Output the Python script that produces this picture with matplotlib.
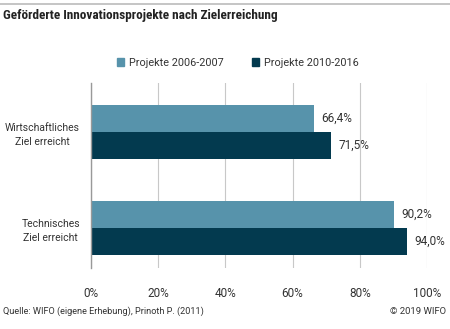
import matplotlib.pyplot as plt
from matplotlib.lines import Line2D
from matplotlib.patches import Patch
from matplotlib import font_manager

categories = ['Wirtschaftliches\nZiel erreicht', 'Technisches\nZiel erreicht']
series_names = ['Projekte 2006-2007', 'Projekte 2010-2016']
values_2006 = [66.4, 90.2]
values_2010 = [71.5, 94.0]
x_ticks = [0, 20, 40, 60, 80, 100]

light = '#5793AB'
dark = '#033A4F'
text_col = '#333333'

installed = {f.name for f in font_manager.fontManager.ttflist}
body = 'Roboto' if 'Roboto' in installed else 'DejaVu Sans'
title_font = 'Roboto Condensed' if 'Roboto Condensed' in installed else body
plt.rcParams['font.family'] = [body, 'DejaVu Sans']

fig = plt.figure(figsize=(4.5, 3.29), dpi=100)
ax = fig.add_axes([91 / 450, (329 - 268) / 329, (427 - 91) / 450, (268 - 83) / 329])

h = 0.286
pos = list(range(len(categories)))
b1 = ax.barh([p - h / 2 for p in pos], values_2006, height=h, color=light, label=series_names[0])
b2 = ax.barh([p + h / 2 for p in pos], values_2010, height=h, color=dark, label=series_names[1])

for bars, vals in ((b1, values_2006), (b2, values_2010)):
    for bar, v in zip(bars, vals):
        ax.text(bar.get_width() + 2.2, bar.get_y() + bar.get_height() / 2,
                f'{v:.1f}%'.replace('.', ','), va='center', ha='left',
                fontsize=8.5, color=text_col)

ax.set_xlim(0, 100)
ax.set_ylim(1.417, -0.51)
ax.set_xticks(x_ticks)
ax.set_xticklabels([f'{t}%' for t in x_ticks], fontsize=8.5, color=text_col)
ax.set_yticks(pos)
ax.set_yticklabels(categories, fontsize=7.5, color=text_col, ha='right', ma='center',
                   linespacing=1.5)
ax.tick_params(axis='x', length=0, pad=14)
ax.tick_params(axis='y', length=0, pad=8)
ax.grid(axis='x', color='#C8C8C8', linewidth=0.8)
ax.set_axisbelow(True)
for s in ['top', 'right', 'bottom']:
    ax.spines[s].set_visible(False)
ax.spines['left'].set_color('#999999')
ax.spines['left'].set_linewidth(1.0)
ax.spines['left'].set_zorder(5)

handles = [Patch(color=light), Patch(color=dark)]
fig.legend(handles, series_names, loc='center', bbox_to_anchor=(0.528, 1 - 63 / 329),
           ncol=2, frameon=False, fontsize=7.8, handlelength=0.7, handleheight=0.7,
           handletextpad=0.4, columnspacing=2.6, labelcolor=text_col)

fig.add_artist(Line2D([0, 1], [1 - 3.5 / 329, 1 - 3.5 / 329], color='#BBBBBB', linewidth=1.2))
fig.text(3 / 450, 1 - 16 / 329, 'Geförderte Innovationsprojekte nach Zielerreichung',
         fontsize=9.5 if title_font != body else 8, fontweight='bold', color='#222222',
         va='center', ha='left', family=[title_font, 'DejaVu Sans'])
fig.text(3 / 450, 1 - 311 / 329, 'Quelle: WIFO (eigene Erhebung), Prinoth P. (2011)',
         fontsize=6.6, color=text_col, va='center', ha='left')
fig.text(446 / 450, 1 - 311 / 329, '© 2019 WIFO',
         fontsize=6.8, color=text_col, va='center', ha='right')

fig.savefig('out.png', dpi=100)
